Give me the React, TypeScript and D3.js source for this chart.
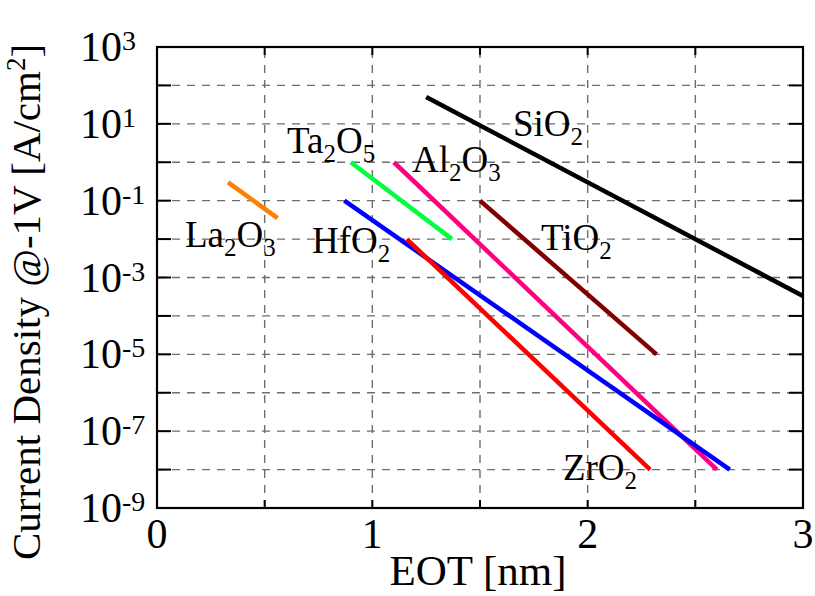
import React from "react";
import * as d3 from "d3";

// Leakage current density vs. equivalent oxide thickness for gate dielectrics
const materials = ["SiO2", "Ta2O5", "Al2O3", "La2O3", "HfO2", "ZrO2", "TiO2"];
const colors = ["#000000", "#00ff40", "#ff0080", "#ff8000", "#0000ff", "#ff0000", "#800000"];
const eotStart = [1.25, 0.9, 1.1, 0.33, 0.87, 1.16, 1.5];
const eotEnd = [3.0, 1.37, 2.6, 0.56, 2.66, 2.29, 2.32];
const jStart = [50, 1, 1, 0.3, 0.1, 0.01, 0.1];
const jEnd = [3.3e-4, 0.01, 1e-8, 0.035, 1e-8, 1e-8, 1e-5];

// label anchors (data units) and formula parts: [base, sub, base, sub]
const labelParts = [
  ["Si", "", "O", "2"],
  ["Ta", "2", "O", "5"],
  ["Al", "2", "O", "3"],
  ["La", "2", "O", "3"],
  ["Hf", "", "O", "2"],
  ["Zr", "", "O", "2"],
  ["Ti", "", "O", "2"],
];
const labelEot = [1.653, 0.604, 1.184, 0.13, 0.72, 1.885, 1.783];
const labelJ = [4.8, 1.74, 0.556, 6.2e-3, 4.3e-3, 5.3e-9, 5.2e-3];

const xTicks = [0, 1, 2, 3];
const xGrid = [0.5, 1, 1.5, 2, 2.5];
const yLabelExps = [3, 1, -1, -3, -5, -7, -9];
const yDecades = d3.range(-9, 4);

const W = 815;
const H = 596;
const FONT = "'Liberation Serif', 'Times New Roman', serif";

export default function App() {
  const x = d3.scaleLinear().domain([0, 3]).range([157, 803]);
  const y = d3.scaleLog().domain([1e-9, 1e3]).range([508, 47]);
  const [x0, x1] = x.range();
  const [y0, y1] = y.range();
  const line = d3
    .line<[number, number]>()
    .x((d) => x(d[0]))
    .y((d) => y(d[1]));

  return (
    <svg
      width={W}
      height={H}
      style={{ position: "absolute", left: 0, top: 0, background: "#fff" }}
      fontFamily={FONT}
    >
      <rect x={0} y={0} width={W} height={H} fill="#fff" />
      {/* grid */}
      <g stroke="#6e6e6e" strokeWidth={1.4} strokeDasharray="8,7" fill="none">
        {xGrid.map((v) => (
          <line key={"gx" + v} x1={x(v)} x2={x(v)} y1={y0} y2={y1} />
        ))}
        {yDecades
          .filter((e) => e > -9 && e < 3)
          .map((e) => (
            <line key={"gy" + e} x1={x0} x2={x1} y1={y(Math.pow(10, e))} y2={y(Math.pow(10, e))} />
          ))}
      </g>
      {/* tick marks */}
      <g stroke="#000" strokeWidth={2}>
        {yDecades.map((e) => {
          const yy = y(Math.pow(10, e));
          return (
            <g key={"ty" + e}>
              <line x1={x0} x2={x0 + 14} y1={yy} y2={yy} />
              <line x1={x1} x2={x1 - 14} y1={yy} y2={yy} />
            </g>
          );
        })}
        {xGrid.map((v) => (
          <g key={"tx" + v}>
            <line x1={x(v)} x2={x(v)} y1={y0} y2={y0 - 8} />
            <line x1={x(v)} x2={x(v)} y1={y1} y2={y1 + 8} />
          </g>
        ))}
      </g>
      {/* data lines */}
      <g fill="none" strokeWidth={4.5} strokeLinecap="butt">
        {materials.map((m, i) => (
          <path
            key={m}
            d={line([
              [eotStart[i], jStart[i]],
              [eotEnd[i], jEnd[i]],
            ]) as string}
            stroke={colors[i]}
          />
        ))}
      </g>
      {/* axes box */}
      <rect x={x0} y={y1} width={x1 - x0} height={y0 - y1} fill="none" stroke="#000" strokeWidth={2.2} />
      {/* line labels */}
      <g fontSize={37} fill="#000">
        {materials.map((m, i) => {
          const p = labelParts[i];
          return (
            <text key={"lab" + m} x={x(labelEot[i])} y={y(labelJ[i])}>
              {p[0]}
              {p[1] && (
                <tspan fontSize={25} dy={9}>
                  {p[1]}
                </tspan>
              )}
              <tspan fontSize={37} dy={p[1] ? -9 : 0}>
                {p[2]}
              </tspan>
              <tspan fontSize={25} dy={9}>
                {p[3]}
              </tspan>
            </text>
          );
        })}
      </g>
      {/* y tick labels */}
      <g fill="#000">
        {yLabelExps.map((e) => {
          const yy = y(Math.pow(10, e));
          return (
            <g key={"yl" + e}>
              <text x={122} y={yy + 14} fontSize={42} textAnchor="end">
                10
              </text>
              <text x={122} y={yy + 3} fontSize={28}>
                {e < 0 ? "-" + Math.abs(e) : String(e)}
              </text>
            </g>
          );
        })}
      </g>
      {/* x tick labels */}
      <g fill="#000" fontSize={42} textAnchor="middle">
        {xTicks.map((v) => (
          <text key={"xl" + v} x={x(v)} y={548}>
            {v}
          </text>
        ))}
      </g>
      {/* axis titles */}
      <text x={478} y={585} fontSize={43} textAnchor="middle" fill="#000">
        EOT [nm]
      </text>
      <text transform="translate(40,302) rotate(-90)" fontSize={41} textAnchor="middle" fill="#000">
        Current Density @-1V [A/cm
        <tspan fontSize={27} dy={-15}>
          2
        </tspan>
        <tspan dy={15}>]</tspan>
      </text>
    </svg>
  );
}
